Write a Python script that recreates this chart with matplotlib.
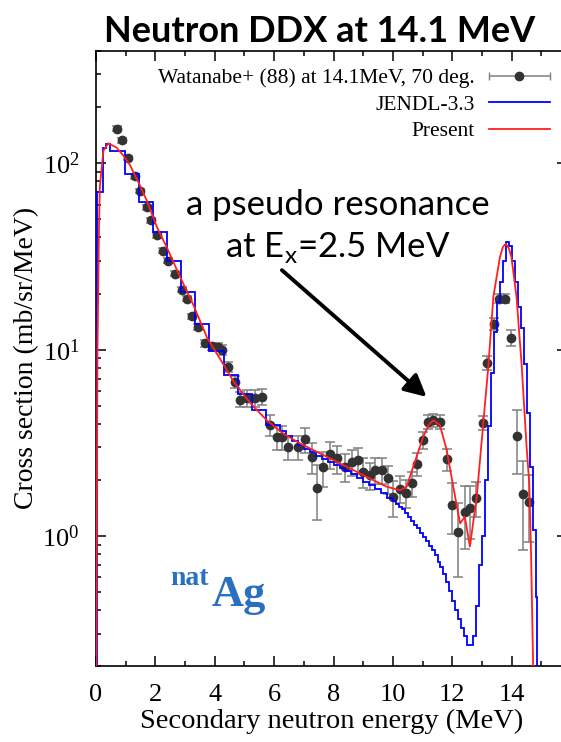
import matplotlib
matplotlib.use("Agg")
import matplotlib.pyplot as plt
from matplotlib.ticker import MultipleLocator, LogLocator
from matplotlib.legend_handler import HandlerErrorbar
from matplotlib.container import ErrorbarContainer

# Watanabe+ (88), 70 deg. measured points
exp_energy = [0.70, 0.87, 1.09, 1.31, 1.48, 1.71, 1.84, 2.04, 2.27, 2.43,
              2.66, 2.89, 3.05, 3.22, 3.44, 3.67, 3.90, 4.12, 4.23, 4.45,
              4.68, 4.85, 5.10, 5.35, 5.58, 5.86, 6.08, 6.25, 6.47, 6.81,
              7.04, 7.26, 7.43, 7.65, 7.88, 8.10, 8.38, 8.61, 8.83, 9.00,
              9.23, 9.39, 9.62, 9.84, 10.01, 10.24, 10.44, 10.63, 10.80, 11.02,
              11.19, 11.36, 11.58, 11.81, 11.98, 12.20, 12.42, 12.59, 12.79, 13.02,
              13.17, 13.40, 13.58, 13.77, 13.99, 14.16, 14.37, 14.59]
exp_xs = [153, 133, 107, 85, 71, 58, 49.5, 41, 34, 30,
          25.6, 21, 18.8, 15.1, 13.3, 10.8, 10.4, 10.3, 10.0, 8.1,
          6.7, 5.4, 5.5, 5.5, 5.6, 3.94, 3.41, 3.41, 3.01, 3.01,
          3.30, 2.66, 1.82, 2.34, 2.75, 2.61, 2.35, 2.50, 2.56, 2.21,
          2.12, 2.26, 2.26, 2.04, 1.62, 1.80, 1.71, 1.92, 2.45, 3.27,
          4.10, 4.19, 4.10, 2.58, 1.47, 1.05, 1.35, 1.41, 1.61, 4.05,
          8.5, 13.8, 18.8, 18.8, 11.6, 3.44, 1.69, 1.53]
exp_err = [5, 4, 3, 3, 2, 2, 1.5, 1.2, 1, 1,
           0.8, 0.7, 0.6, 0.5, 0.5, 0.5, 0.5, 0.5, 0.6, 0.5,
           0.5, 0.5, 0.55, 0.55, 0.55, 0.5, 0.5, 0.5, 0.45, 0.45,
           0.5, 0.5, 0.6, 0.5, 0.45, 0.45, 0.4, 0.4, 0.4, 0.4,
           0.35, 0.35, 0.35, 0.35, 0.35, 0.3, 0.3, 0.3, 0.35, 0.35,
           0.35, 0.35, 0.35, 0.35, 0.45, 0.45, 0.5, 0.45, 0.35, 0.35,
           0.7, 1.0, 1.0, 1.0, 1.2, 1.3, 0.85, 0.6]

# JENDL-3.3 histogram (bin edges and values)
jendl_edges = [0.02, 0.22, 0.33, 0.47, 0.97, 1.45, 1.92, 2.40, 2.87, 3.35,
               3.82, 4.30, 4.77, 5.25, 5.72, 6.2,
               6.4, 6.6, 6.8, 7.0, 7.2, 7.4, 7.6, 7.8, 8.0, 8.2,
               8.4, 8.6, 8.8, 9.0, 9.2, 9.4, 9.6, 9.8, 10.0,
               10.1, 10.2, 10.3, 10.4, 10.5, 10.6, 10.7, 10.8, 10.9, 11.0,
               11.1, 11.2, 11.3, 11.4, 11.5, 11.6, 11.7, 11.8, 11.9, 12.0,
               12.1, 12.2, 12.3, 12.4, 12.5, 12.6, 12.7, 12.8, 12.9, 13.0,
               13.1, 13.2, 13.3, 13.4, 13.5, 13.6, 13.7, 13.8, 13.9, 14.0,
               14.1, 14.2, 14.3, 14.4, 14.5, 14.6, 14.7, 14.8, 14.85]
jendl_vals = [70, 120, 127, 117, 88, 62, 43, 30, 20.5, 13.8,
              9.8, 7.3, 5.8, 4.75, 3.95,
              3.65, 3.45, 3.25, 3.08, 2.95, 2.82, 2.70, 2.60, 2.50, 2.42,
              2.33, 2.23, 2.14, 2.05, 1.96, 1.88, 1.79, 1.70, 1.61,
              1.54, 1.49, 1.44, 1.39, 1.33, 1.27, 1.21, 1.15, 1.10, 1.04,
              0.99, 0.94, 0.89, 0.84, 0.79, 0.73, 0.68, 0.63, 0.57, 0.51,
              0.45, 0.40, 0.36, 0.32, 0.29, 0.26, 0.26, 0.29, 0.42, 0.70,
              1.0, 2.0, 3.9, 7.5, 12.5, 18, 23, 30, 37.9, 36,
              30, 23, 17, 13, 8.4, 4.6, 2.35, 1.08, 0.47]

# Present calculation
calc_energy = [0.01, 0.03, 0.05, 0.10, 0.13, 0.25, 0.42, 0.70, 0.92, 1.14,
               1.48, 1.71, 2.05, 2.38, 2.83, 3.27, 3.74, 4.20, 4.62, 5.18,
               5.75, 6.30, 6.87, 7.99, 9.11, 9.79, 10.24, 10.46, 10.68, 11.02,
               11.20, 11.36, 11.58, 11.81, 12.03, 12.26, 12.42, 12.59, 12.82, 13.04,
               13.21, 13.38, 13.60, 13.70, 13.80, 13.90, 13.99, 14.16, 14.33, 14.50,
               14.59, 14.65, 14.72]
calc_xs = [0.2, 1.5, 10, 45, 75, 117, 128, 121, 110, 98,
           76, 63, 45.5, 35.5, 24.6, 17.5, 11.6, 8.8, 6.8, 5.2,
           4.18, 3.55, 3.14, 2.56, 2.08, 1.84, 1.76, 1.84, 2.35, 3.41,
           3.95, 4.18, 3.94, 2.89, 1.84, 1.17, 1.27, 0.88, 1.62, 4.02,
           8.1, 19.2, 31.3, 35.5, 37, 35, 31.3, 19.2, 8.4, 3.0,
           1.92, 0.8, 0.2]

serif = "Liberation Serif"
sans = "Lato"
plt.rcParams["font.family"] = [serif, "DejaVu Serif"]

fig = plt.figure(figsize=(5.61, 7.42), dpi=100)
ax = fig.add_axes([96 / 561, (742 - 666.4) / 742, 471 / 561, 615.4 / 742])

ax.errorbar(exp_energy, exp_xs, yerr=exp_err, fmt="o", color="#333333",
            ms=6, ecolor="#808080", elinewidth=1.1, capsize=3.5, capthick=1.1,
            zorder=2)
ax.stairs(jendl_vals, jendl_edges, baseline=1e-3, color="#0000ff", lw=1.3, zorder=3)
ax.plot(calc_energy, calc_xs, color="#ff2020", lw=1.3, zorder=4)

ax.set_yscale("log")
ax.set_xlim(0, 15.86)
ax.set_ylim(0.2, 400)
ax.xaxis.set_major_locator(MultipleLocator(2))
ax.xaxis.set_minor_locator(MultipleLocator(1))
ax.yaxis.set_major_locator(LogLocator(base=10))
ax.yaxis.set_minor_locator(LogLocator(base=10, subs=range(2, 10)))
ax.tick_params(which="both", direction="in", top=True, right=True, width=1.1,
               labelsize=19)
ax.tick_params(which="major", length=7)
ax.tick_params(which="minor", length=3.5)
ax.tick_params(axis="x", pad=13)
ax.tick_params(axis="y", pad=12)
for s in ax.spines.values():
    s.set_linewidth(1.2)

ax.set_xlabel("Secondary neutron energy (MeV)", fontsize=20.5, labelpad=2)
ax.set_ylabel("Cross section (mb/sr/MeV)", fontsize=20)
ax.yaxis.set_label_coords(-0.12, 0.501)

# legend: horizontal error bar sample for the measurement
proxy_line, = ax.plot([], [], "o", color="#333333", ms=6)
proxy_cap, = ax.plot([], [], "|", color="#808080")
proxy_bar = ax.hlines([], [], [], color="#808080", lw=1.1)
exp_handle = ErrorbarContainer((proxy_line, (proxy_cap,), (proxy_bar,)),
                               has_xerr=True, has_yerr=False)
blue_handle, = ax.plot([], [], color="#0000ff", lw=1.3)
red_handle, = ax.plot([], [], color="#ff2020", lw=1.3)
leg = ax.legend([exp_handle, blue_handle, red_handle],
                ["Watanabe+ (88) at 14.1MeV, 70 deg.", "JENDL-3.3", "Present"],
                loc="upper right", bbox_to_anchor=(0.964, 0.972), frameon=False,
                markerfirst=False, fontsize=15.5, handlelength=2.85,
                handletextpad=0.65, labelspacing=0.3, borderpad=0, borderaxespad=0,
                handler_map={ErrorbarContainer: HandlerErrorbar(xerr_size=1.4)})

ax.text(0.514, 0.7335, "a pseudo resonance", transform=ax.transAxes,
        ha="center", va="baseline", fontsize=25, family=sans)
ax.text(0.514, 0.665, r"at E$_\mathregular{x}$=2.5 MeV", transform=ax.transAxes,
        ha="center", va="baseline", fontsize=25, family=sans)
ax.annotate("", xy=(11.13, 5.58), xytext=(6.26, 26.7),
            arrowprops=dict(arrowstyle="-|>,head_length=0.55,head_width=0.28",
                            lw=2.8, color="black", mutation_scale=24,
                            shrinkA=0, shrinkB=0))

ax.text(0.24, 0.133, "nat", transform=ax.transAxes, ha="right", va="baseline",
        fontsize=20, fontweight="bold", color="#2a70c0")
ax.text(0.246, 0.098, "Ag", transform=ax.transAxes, ha="left", va="baseline",
        fontsize=32, fontweight="bold", color="#2a70c0")

fig.text(0.569, 0.943, "Neutron DDX at 14.1 MeV", ha="center", va="baseline",
         fontsize=26, fontweight="bold", family=sans)

fig.savefig("out.png", dpi=100)
